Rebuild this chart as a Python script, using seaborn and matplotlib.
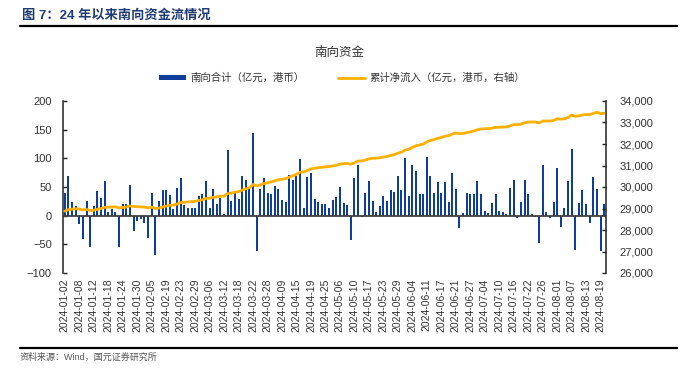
import numpy as np
import pandas as pd
import matplotlib.pyplot as plt
import seaborn as sns
from matplotlib.lines import Line2D
from matplotlib.patches import Patch

# trading days (Southbound Stock Connect), 2024-01-02 .. 2024-08-20
start_date = "2024-01-02"
end_date = "2024-08-20"
closed_days = ["2024-02-09", "2024-02-12", "2024-02-13", "2024-02-14", "2024-02-15",
               "2024-02-16", "2024-03-29", "2024-04-01", "2024-04-04", "2024-04-05",
               "2024-05-01", "2024-05-02", "2024-05-03", "2024-05-15", "2024-06-10",
               "2024-07-01"]

# daily southbound net buy (亿元, 港币)
south_flow = [39, 69, 23, 16, -14, -41, 26, -54, 16, 43,
              31, 60, 6, 12, 7, -54, 21, 20, 54, -26,
              -10, -6, -12, -39, 39, -68, 25, 45, 44, 36,
              11, 49, 65, 18, 14, 14, 14, 34, 37, 60,
              13, 46, 20, 31, 3, 114, 26, 40, 29, 70,
              63, 48, 145, -62, 46, 65, 39, 37, 52, 47,
              28, 24, 71, 62, 70, 98, 13, 67, 74, 29,
              24, 21, 20, 13, 28, 32, 50, 22, 19, -42,
              65, 88, -2, 40, 60, 26, 6, 17, 35, 26,
              44, 42, 69, 44, 100, 34, 88, 78, 37, 37,
              103, 69, 40, 59, 39, 59, 24, 75, 46, -21,
              5, 39, 37, 37, 60, 37, 9, 5, 22, 37,
              9, 6, 3, 49, 62, -4, 24, 62, 37, 3,
              -2, -47, 88, 7, -4, 24, 84, -19, 14, 60,
              116, -60, 22, 44, 20, -12, 67, 47, -62, 20]

# cumulative net inflow before 2024-01-02 (亿元, 港币)
cum_base = 28840

bar_label = "南向合计（亿元，港币）"
line_label = "累计净流入（亿元，港币，右轴）"
header = "图 7：24 年以来南向资金流情况"
chart_title = "南向资金"
source = "资料来源：Wind，国元证券研究所"

days = pd.bdate_range(start_date, end_date)
days = days[~days.isin(pd.to_datetime(closed_days))]
df = pd.DataFrame({"date": days, "flow": south_flow})
df["idx"] = np.arange(len(df))
df["cum"] = cum_base + df["flow"].cumsum()

sns.set_style("white")
plt.rcParams["font.family"] = ["Liberation Sans", "Noto Sans CJK SC", "DejaVu Sans"]

bar_color = "#0E3D9C"
line_color = "#FFB000"
text_color = "#333333"

fig = plt.figure(figsize=(7, 3.73), dpi=100)
W, H = 700, 373
ax = fig.add_axes([63 / W, 1 - 273 / H, (606 - 63) / W, (273 - 101) / H])

sns.barplot(data=df, x="idx", y="flow", ax=ax, color=bar_color, saturation=1,
            width=0.55, linewidth=0)
ax.axhline(0, color="#404040", lw=1.3, zorder=3)
ax.set_ylim(-100, 200)
ax.set_yticks(np.arange(-100, 201, 50))
ax.set_xlim(-0.5, len(df) - 0.5)
tick_pos = df["idx"].values[::4]
ax.set_xticks(tick_pos)
ax.set_xticklabels(df["date"].dt.strftime("%Y-%m-%d").values[::4], rotation=90)
ax.set_xlabel("")
ax.set_ylabel("")

ax2 = ax.twinx()
sns.lineplot(data=df, x="idx", y="cum", ax=ax2, color=line_color, lw=2)
ax2.set_ylim(26000, 34000)
ax2.set_yticks(np.arange(26000, 34001, 1000))
ax2.set_yticklabels([f"{v:,}" for v in range(26000, 34001, 1000)])
ax2.set_xlim(-0.5, len(df) - 0.5)
ax2.set_ylabel("")

for a in (ax, ax2):
    for s in ("top", "bottom"):
        a.spines[s].set_visible(False)
    a.spines["left"].set_visible(a is ax)
    a.spines["right"].set_visible(a is ax2)
    for s in ("left", "right"):
        a.spines[s].set_color("#222222")
        a.spines[s].set_linewidth(1.1)
    a.tick_params(axis="y", direction="in", length=3, width=1, color="#222222",
                  labelsize=8, labelcolor=text_color, pad=8)
    a.grid(False)
ax.tick_params(axis="x", length=0, labelsize=7.5, labelcolor=text_color, pad=4)
ax2.tick_params(axis="y", pad=10)

# header and footer
fig.text(22 / W, 1 - 16 / H, header, fontsize=9.5, fontweight="bold",
         color="#1F3B73", va="center", ha="left")
fig.add_artist(Line2D([20 / W, 677 / W], [1 - 26 / H, 1 - 26 / H],
                      color="black", lw=1.6))
fig.text(339 / W, 1 - 53 / H, chart_title, fontsize=9, color=text_color,
         ha="center", va="center")
fig.add_artist(Line2D([20 / W, 677 / W], [1 - 348 / H, 1 - 348 / H],
                      color="black", lw=1.6))
fig.text(20 / W, 1 - 357 / H, source, fontsize=6.5, color="#555555",
         ha="left", va="center")

handles = [Patch(facecolor=bar_color, edgecolor="none"),
           Line2D([], [], color=line_color, lw=2)]
fig.legend(handles, [bar_label, line_label], loc="center",
           bbox_to_anchor=(342 / W, 1 - 78 / H), ncol=2, frameon=False,
           fontsize=7.5, handlelength=2.6, handleheight=0.45, handletextpad=0.4,
           columnspacing=3.2, labelcolor=text_color)

fig.savefig("out.png", dpi=100)
plt.close(fig)
